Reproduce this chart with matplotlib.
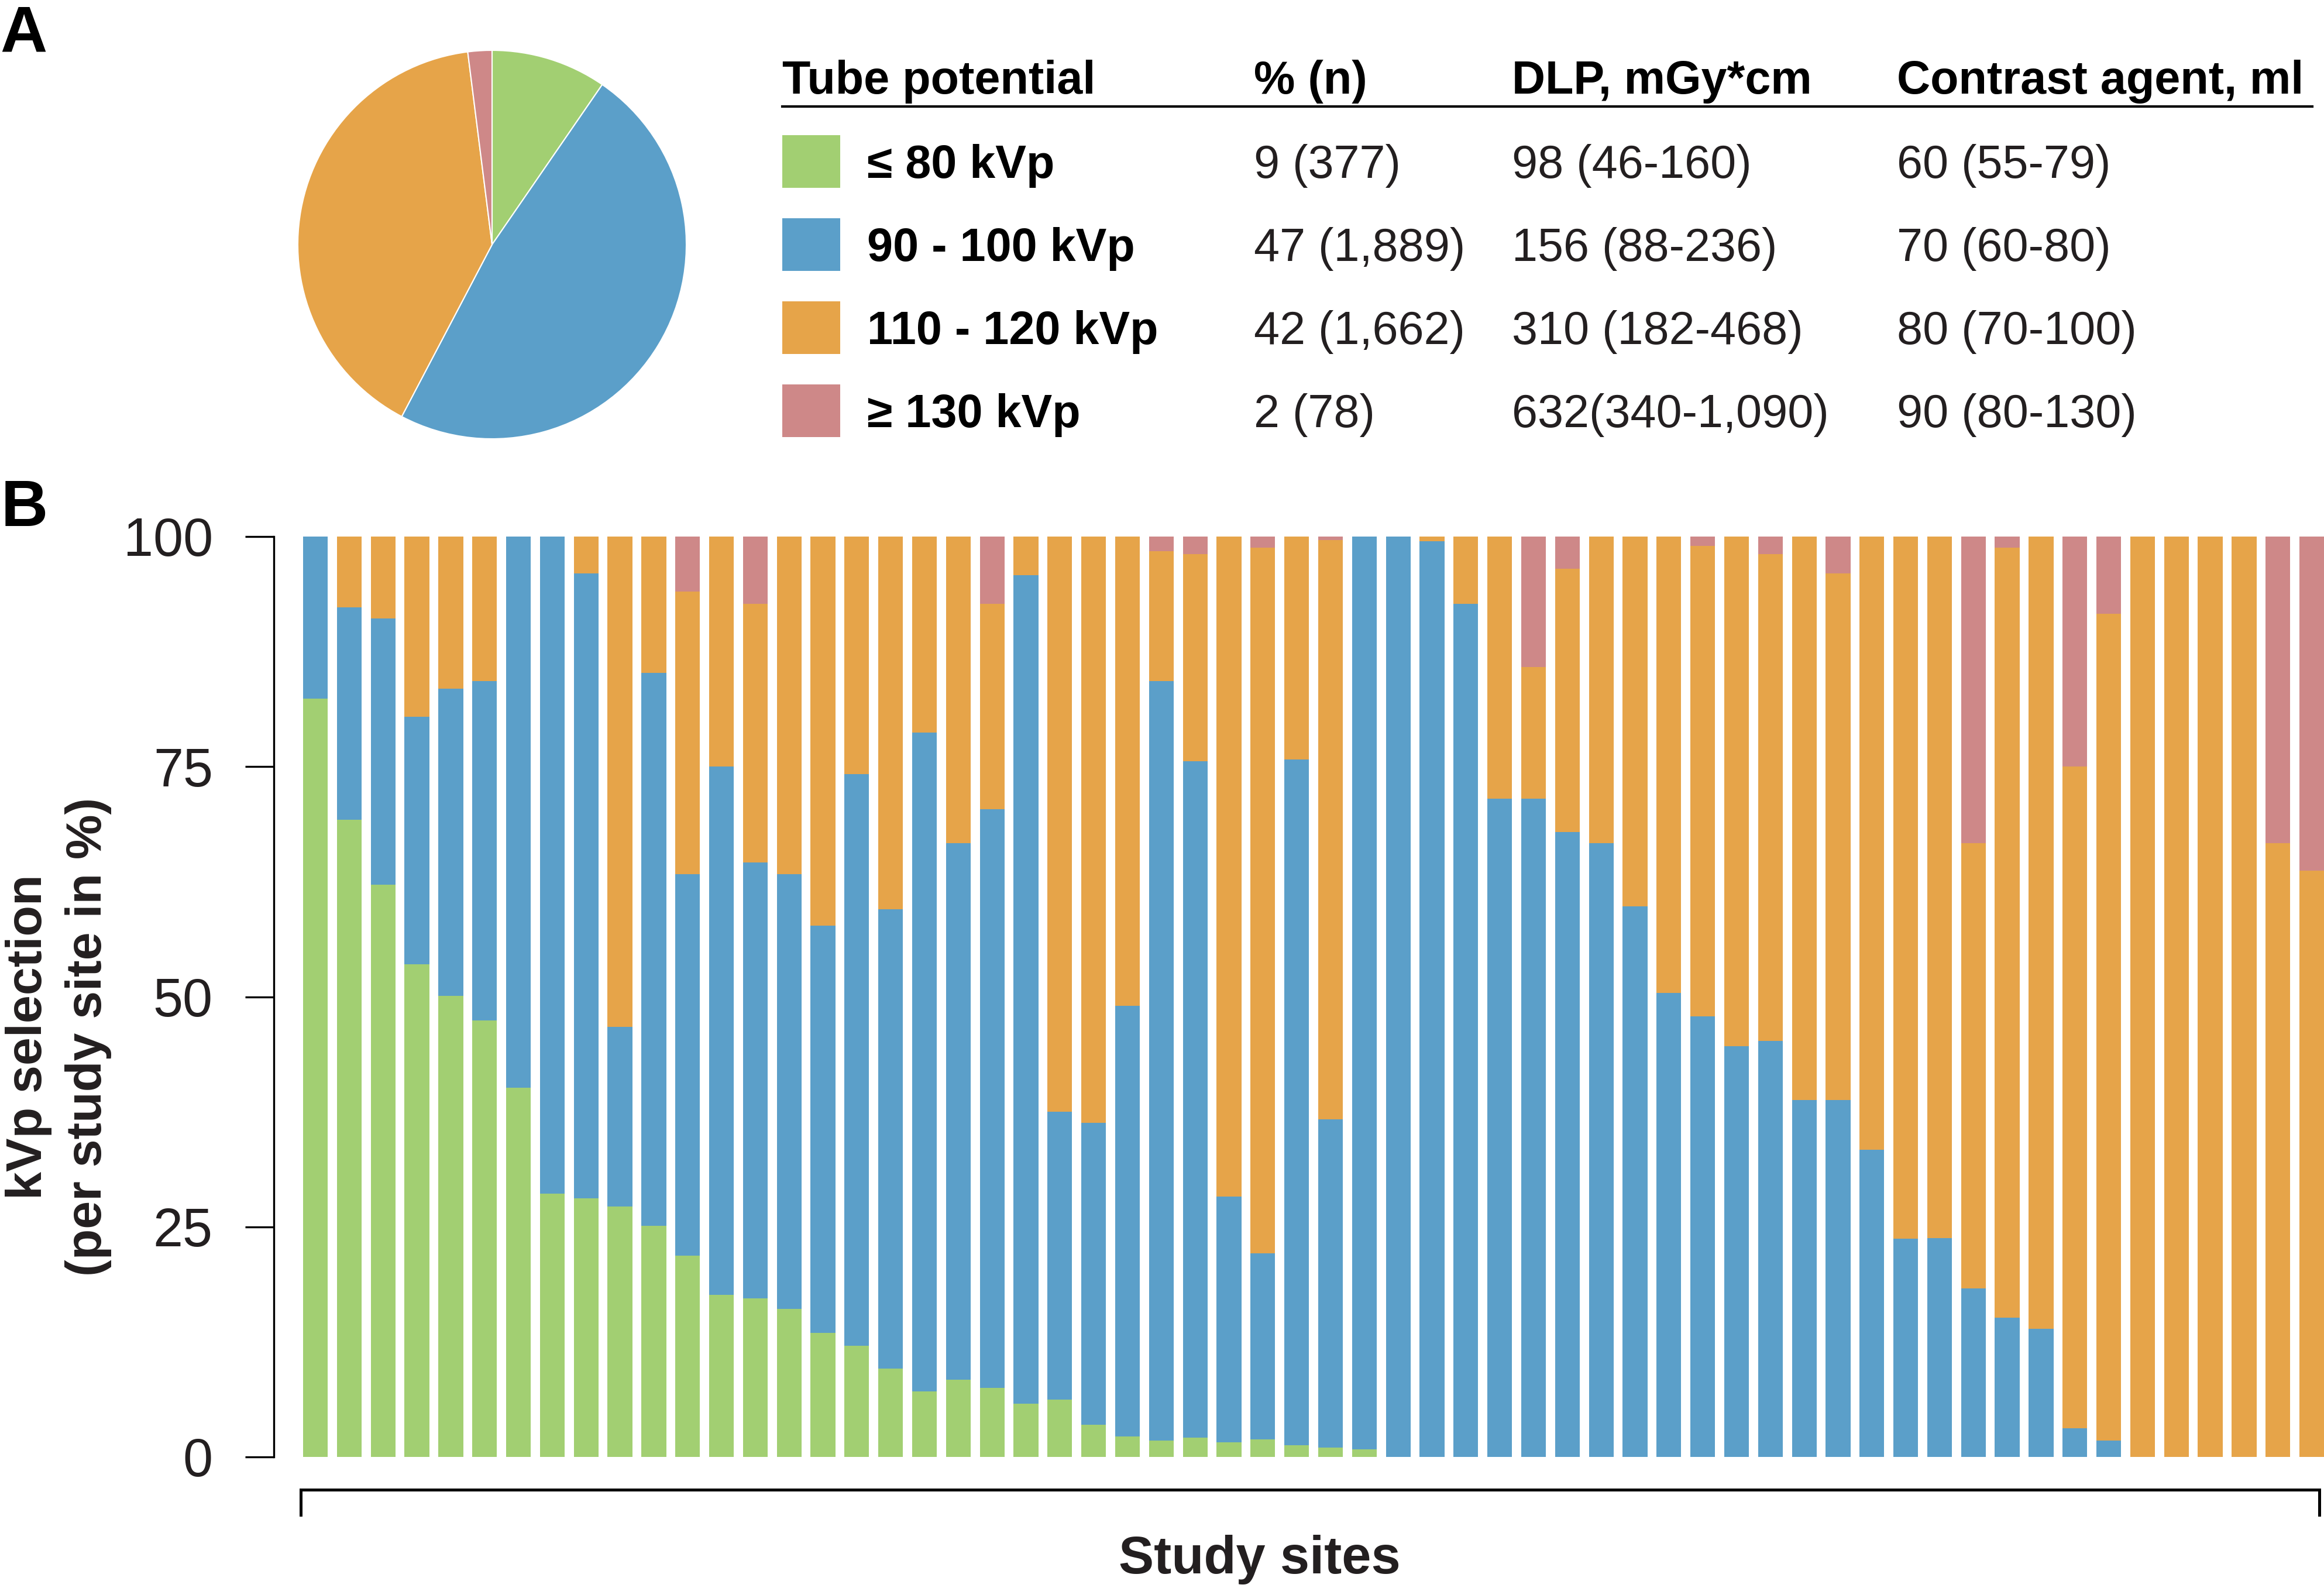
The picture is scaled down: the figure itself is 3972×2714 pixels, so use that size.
import matplotlib
matplotlib.use("Agg")
import matplotlib.pyplot as plt
import numpy as np
from matplotlib.patches import Rectangle
from matplotlib.lines import Line2D

plt.rcParams['font.family'] = ['Liberation Sans', 'DejaVu Sans']

# ---------------- data ----------------
categories = ["\u2264 80 kVp", "90 - 100 kVp", "110 - 120 kVp", "\u2265 130 kVp"]
colors = ["#A2CF72", "#5B9FC9", "#E6A449", "#CE8888"]
pie_shares = [9.6, 48.1, 40.3, 2.0]   # slice sizes as drawn in the pie
pct_n = ["9 (377)", "47 (1,889)", "42 (1,662)", "2 (78)"]
dlp = ["98 (46-160)", "156 (88-236)", "310 (182-468)", "632(340-1,090)"]
contrast = ["60 (55-79)", "70 (60-80)", "80 (70-100)", "90 (80-130)"]
table_headers = ["Tube potential", "% (n)", "DLP, mGy*cm", "Contrast agent, ml"]

# per study site, percentage of each tube potential category
le80 = [82.4, 69.2, 62.2, 53.5, 50.1, 47.4, 40.1, 28.6, 28.1, 27.2,
        25.1, 21.9, 17.6, 17.2, 16.1, 13.5, 12.1, 9.6, 7.1, 8.4,
        7.5, 5.8, 6.2, 3.5, 2.2, 1.8, 2.1, 1.6, 1.9, 1.3,
        1.0, 0.8, 0, 0, 0, 0, 0, 0, 0, 0,
        0, 0, 0, 0, 0, 0, 0, 0, 0, 0,
        0, 0, 0, 0, 0, 0, 0, 0, 0, 0]
kv90_100 = [17.6, 23.1, 28.9, 26.9, 33.4, 36.9, 59.9, 71.4, 67.9, 19.5,
            60.1, 41.4, 57.4, 47.4, 47.2, 44.2, 62.1, 49.9, 71.6, 58.3,
            62.9, 90.0, 31.3, 32.8, 46.8, 82.5, 73.5, 26.7, 20.2, 74.5,
            35.7, 99.2, 100, 99.5, 92.7, 71.5, 71.5, 67.9, 66.7, 59.8,
            50.4, 47.9, 44.6, 45.2, 38.8, 38.8, 33.4, 23.7, 23.8, 18.3,
            15.1, 13.9, 3.1, 1.8, 0, 0, 0, 0, 0, 0]
kv110_120 = [0, 7.7, 8.9, 19.6, 16.5, 15.7, 0, 0, 4.0, 53.3,
             14.8, 30.7, 25.0, 28.1, 36.7, 42.3, 25.8, 40.5, 21.3, 33.3,
             22.3, 4.2, 62.5, 63.7, 51.0, 14.1, 22.5, 71.7, 76.7, 24.2,
             62.9, 0, 0, 0.5, 7.3, 28.5, 14.3, 28.6, 33.3, 40.2,
             49.6, 51.1, 55.4, 52.9, 61.2, 57.2, 66.6, 76.3, 76.2, 48.4,
             83.7, 86.1, 71.9, 89.8, 100, 100, 100, 100, 66.7, 63.7]
ge130 = [0, 0, 0, 0, 0, 0, 0, 0, 0, 0,
         0, 6.0, 0, 7.3, 0, 0, 0, 0, 0, 0,
         7.3, 0, 0, 0, 0, 1.6, 1.9, 0, 1.2, 0,
         0.4, 0, 0, 0, 0, 0, 14.2, 3.5, 0, 0,
         0, 1.0, 0, 1.9, 0, 4.0, 0, 0, 0, 33.3,
         1.2, 0, 25.0, 8.4, 0, 0, 0, 0, 33.3, 36.3]
yticks = [0, 25, 50, 75, 100]

# ---------------- figure ----------------
W, H = 3972, 2714
DPI = 100
fig = plt.figure(figsize=(W / DPI, H / DPI), dpi=DPI)


def fx(px):
    return px / W


def fy(py):
    return 1 - py / H


TXT = "#231F20"

# ---------------- panel A: pie ----------------
cx, cy, r = 841, 418, 332
pax = fig.add_axes([fx(cx - r), fy(cy + r), 2 * r / W, 2 * r / H])
pax.pie(pie_shares, colors=colors, startangle=90, counterclock=False,
        wedgeprops=dict(edgecolor="white", linewidth=1.5))
pax.set_xlim(-1, 1)
pax.set_ylim(-1, 1)
pax.set_aspect("equal")
pax.axis("off")

fig.text(fx(0), fy(89), "A", fontsize=80, fontweight="bold", ha="left", va="baseline")
fig.text(fx(2), fy(899), "B", fontsize=80, fontweight="bold", ha="left", va="baseline")

# ---------------- table ----------------
col_x = [1337, 2143, 2584, 3242]
header_base = 160
for x, h in zip(col_x, table_headers):
    fig.text(fx(x), fy(header_base), h, fontsize=57, fontweight="bold",
             ha="left", va="baseline", color="black")
fig.add_artist(Line2D([fx(1337), fx(3952)], [fy(182), fy(182)],
                      color="black", linewidth=3.0))

row_base = [304, 446, 588, 730]
sw_top = [231, 373, 515, 657]
for i in range(4):
    fig.add_artist(Rectangle((fx(1337), fy(sw_top[i] + 90)), 99 / W, 90 / H,
                             facecolor=colors[i], edgecolor="none"))
    fig.text(fx(1482), fy(row_base[i]), categories[i], fontsize=57, fontweight="bold",
             ha="left", va="baseline", color="black")
    fig.text(fx(col_x[1]), fy(row_base[i]), pct_n[i], fontsize=57,
             ha="left", va="baseline", color=TXT)
    fig.text(fx(col_x[2]), fy(row_base[i]), dlp[i], fontsize=57,
             ha="left", va="baseline", color=TXT)
    fig.text(fx(col_x[3]), fy(row_base[i]), contrast[i], fontsize=57,
             ha="left", va="baseline", color=TXT)

# ---------------- panel B: stacked bars ----------------
y100, y0 = 917, 2490
spine_x = 468
unit = 57.83
bw = 0.73
xl = -bw / 2 - (518 - spine_x) / unit
xr = xl + (W - spine_x) / unit
ax = fig.add_axes([fx(spine_x), fy(y0), (W - spine_x) / W, (y0 - y100) / H])
n = len(le80)
x = np.arange(n)
series = [le80, kv90_100, kv110_120, ge130]
bottom = np.zeros(n)
for vals, c in zip(series, colors):
    v = np.array(vals, dtype=float)
    ax.bar(x, v, bottom=bottom, width=bw, color=c, edgecolor="none", linewidth=0)
    bottom += v
ax.set_xlim(xl, xr)
ax.set_ylim(0, 100)
for s in ["top", "right", "bottom"]:
    ax.spines[s].set_visible(False)
ax.spines["left"].set_linewidth(2.4)
ax.spines["left"].set_bounds(0, 100)
ax.set_xticks([])
ax.set_yticks(yticks)
ax.set_yticklabels([str(t) for t in yticks])
ax.tick_params(axis="y", direction="out", length=35, width=2.4, pad=40,
               labelsize=66, labelcolor=TXT)
ax.patch.set_alpha(0)

# bottom bracket
per_px_y = 100 / (y0 - y100)
yb = -(2546 - y0) * per_px_y
yt = -(2589 - y0) * per_px_y
xbl = (514 - 518) / unit - bw / 2
xbr = (3964 - 518) / unit - bw / 2
ax.plot([xbl, xbl, xbr, xbr], [yt, yb, yb, yt], color="black", linewidth=3.6,
        clip_on=False, solid_joinstyle="miter")

fig.text(fx(2153), fy(2666), "Study sites", fontsize=65, fontweight="bold",
         ha="center", va="center", color=TXT)
fig.text(fx(100), fy(1772), "kVp selection\n(per study site in %)", fontsize=62,
         fontweight="bold", rotation=90, ha="center", va="center",
         multialignment="center", linespacing=1.35, color=TXT)

fig.savefig("out.png", dpi=DPI, facecolor="white")
